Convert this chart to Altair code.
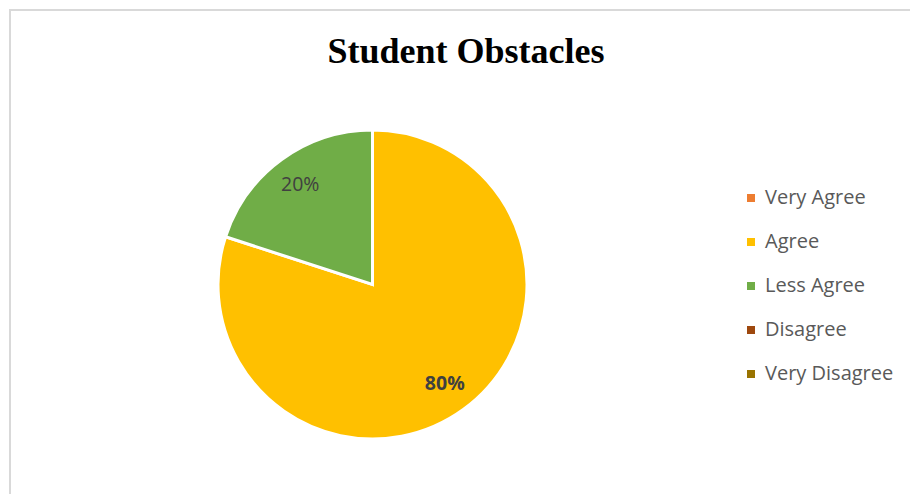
import altair as alt
import pandas as pd

categories = ["Very Agree", "Agree", "Less Agree", "Disagree", "Very Disagree"]
values = [0, 80, 20, 0, 0]
colors = ["#ED7D31", "#FFC000", "#70AD47", "#9E480E", "#997300"]

df = pd.DataFrame({"category": categories, "value": values, "idx": list(range(len(categories)))})

W, H = 910, 494
CX, CY, R = 372.5, 284.5, 154.5

color = alt.Color(
    "category:N",
    scale=alt.Scale(domain=categories, range=colors),
    sort=categories,
    legend=alt.Legend(
        title=None,
        orient="none",
        legendX=741,
        legendY=188,
        symbolType="square",
        symbolSize=64,
        symbolStrokeWidth=0,
        labelFont="Open Sans",
        labelFontSize=20,
        labelColor="#595959",
        labelOffset=4,
        rowPadding=24,
        labelLimit=300,
    ),
)

base = alt.Chart(df).transform_stack(
    stack="value", groupby=[], as_=["v0", "v1"], sort=[alt.SortField("idx", order="ascending")]
).transform_calculate(mid="(datum.v0 + datum.v1) / 2")

theta_scale = alt.Scale(domain=[0, 100])

border = alt.Chart(df).mark_rect(fill=None, stroke="#d9d9d9", strokeWidth=2).encode(
    x=alt.value(10), y=alt.value(10), x2=alt.value(1200), y2=alt.value(1200)
).transform_filter("datum.idx == 0")

arcs = base.transform_filter("datum.value > 0").mark_arc(
    radius=R, stroke="white", strokeWidth=3
).encode(
    theta=alt.Theta("v0:Q", scale=theta_scale),
    theta2="v1:Q",
    color=color,
    x=alt.value(CX),
    y=alt.value(CY),
)

legend_layer = alt.Chart(df).mark_point(opacity=0, size=0).encode(
    color=color, x=alt.value(-100), y=alt.value(-100)
)

label_normal = base.transform_filter("datum.category == 'Less Agree'").transform_calculate(
    lab="format(datum.value, 'd') + '%'"
).mark_text(radius=123, font="Open Sans", fontSize=19.5, color="#404040").encode(
    theta=alt.Theta("mid:Q", scale=theta_scale),
    text="lab:N",
    x=alt.value(CX),
    y=alt.value(CY),
)

label_bold = base.transform_filter("datum.category == 'Agree'").transform_calculate(
    lab="format(datum.value, 'd') + '%'"
).mark_text(radius=123, font="Open Sans", fontSize=19.5, fontWeight="bold", color="#404040").encode(
    theta=alt.Theta("mid:Q", scale=theta_scale),
    text="lab:N",
    x=alt.value(CX),
    y=alt.value(CY),
)

title = alt.Chart(df).transform_filter("datum.idx == 0").mark_text(
    text="Student Obstacles", font="Liberation Serif", fontSize=36, fontWeight="bold",
    color="#000000", align="center", baseline="alphabetic"
).encode(x=alt.value(466), y=alt.value(63))

chart = alt.layer(border, arcs, legend_layer, label_normal, label_bold, title).properties(
    width=W, height=H, padding=0, autosize=alt.AutoSizeParams(type="none"), background="white"
).configure_view(stroke=None)

chart.save("out.html", embed_options={"renderer": "svg", "actions": False})
